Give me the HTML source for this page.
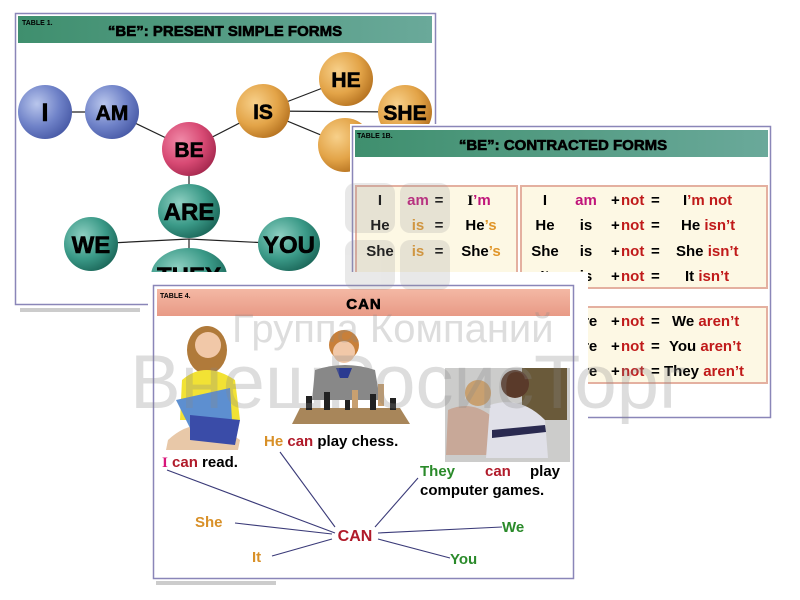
<!DOCTYPE html>
<html><head><meta charset="utf-8"><style>
html,body{margin:0;padding:0;background:#fff;width:800px;height:600px;overflow:hidden}
svg{display:block}
text{font-family:"Liberation Sans",sans-serif;font-weight:bold}
.hv{stroke:#000;stroke-width:0.6}
</style></head><body>
<svg width="800" height="600" viewBox="0 0 800 600" xmlns="http://www.w3.org/2000/svg">
<defs>
<radialGradient id="gb" cx="35%" cy="35%" r="70%"><stop offset="0" stop-color="#b9c6ec"/><stop offset="0.6" stop-color="#6f82c8"/><stop offset="1" stop-color="#4a5ca8"/></radialGradient>
<radialGradient id="gr" cx="35%" cy="35%" r="70%"><stop offset="0" stop-color="#f08aa8"/><stop offset="0.6" stop-color="#d84a74"/><stop offset="1" stop-color="#a82a50"/></radialGradient>
<radialGradient id="go" cx="35%" cy="35%" r="70%"><stop offset="0" stop-color="#f7d08a"/><stop offset="0.6" stop-color="#e3a448"/><stop offset="1" stop-color="#b87522"/></radialGradient>
<radialGradient id="gt" cx="35%" cy="35%" r="70%"><stop offset="0" stop-color="#8fd0c2"/><stop offset="0.6" stop-color="#3b9a88"/><stop offset="1" stop-color="#1d6a5c"/></radialGradient>
<linearGradient id="hg" x1="0" y1="0" x2="1" y2="0"><stop offset="0" stop-color="#3f8f6e"/><stop offset="1" stop-color="#6aa99a"/></linearGradient>
<linearGradient id="hs" x1="0" y1="0" x2="0" y2="1"><stop offset="0" stop-color="#f4b8a4"/><stop offset="1" stop-color="#e89a86"/></linearGradient>
</defs>

<!-- TABLE 1 -->
<rect x="15.5" y="13.5" width="420" height="291" fill="#fff" stroke="#8a86b8" stroke-width="1.5"/>
<rect x="18" y="16" width="414" height="27" fill="url(#hg)"/>
<text x="22" y="25" font-size="7">TABLE 1.</text>
<text x="225" y="36" font-size="15" text-anchor="middle" class="hv">“BE”: PRESENT SIMPLE FORMS</text>
<g stroke="#222" stroke-width="1.2">
<line x1="45" y1="112" x2="112" y2="112"/><line x1="112" y1="112" x2="189" y2="149"/>
<line x1="189" y1="149" x2="263" y2="111"/><line x1="263" y1="111" x2="346" y2="79"/>
<line x1="263" y1="111" x2="405" y2="112"/><line x1="263" y1="111" x2="345" y2="145"/>
<line x1="189" y1="149" x2="189" y2="211"/>
<line x1="91" y1="244" x2="189" y2="239"/><line x1="189" y1="239" x2="289" y2="244"/><line x1="189" y1="239" x2="189" y2="272"/>
</g>
<g class="hv">
<circle cx="45" cy="112" r="27" fill="url(#gb)" stroke="none"/><text x="45" y="121" font-size="25" text-anchor="middle" font-family="Liberation Serif">I</text>
<circle cx="112" cy="112" r="27" fill="url(#gb)" stroke="none"/><text x="112" y="120" font-size="21" text-anchor="middle">AM</text>
<circle cx="189" cy="149" r="27" fill="url(#gr)" stroke="none"/><text x="189" y="157" font-size="21" text-anchor="middle">BE</text>
<circle cx="263" cy="111" r="27" fill="url(#go)" stroke="none"/><text x="263" y="119" font-size="21" text-anchor="middle">IS</text>
<circle cx="346" cy="79" r="27" fill="url(#go)" stroke="none"/><text x="346" y="87" font-size="21" text-anchor="middle">HE</text>
<circle cx="405" cy="112" r="27" fill="url(#go)" stroke="none"/><text x="405" y="120" font-size="21" text-anchor="middle">SHE</text>
<circle cx="345" cy="145" r="27" fill="url(#go)" stroke="none"/>
<ellipse cx="189" cy="211" rx="31" ry="27" fill="url(#gt)" stroke="none"/><text x="189" y="220" font-size="24" text-anchor="middle">ARE</text>
<circle cx="91" cy="244" r="27" fill="url(#gt)" stroke="none"/><text x="91" y="253" font-size="24" text-anchor="middle">WE</text>
<ellipse cx="289" cy="244" rx="31" ry="27" fill="url(#gt)" stroke="none"/><text x="289" y="253" font-size="24" text-anchor="middle">YOU</text>
<ellipse cx="189" cy="276" rx="38" ry="28" fill="url(#gt)" stroke="none"/><text x="189" y="284" font-size="24" text-anchor="middle">THEY</text>
</g>
<rect x="20" y="308" width="120" height="4" fill="#ccc"/>

<!-- TABLE 1B -->
<rect x="350" y="124" width="422" height="296" fill="#fff"/>
<rect x="352.5" y="126.5" width="418" height="291" fill="#fff" stroke="#8a86b8" stroke-width="1.5"/>
<rect x="355" y="130" width="413" height="27" fill="url(#hg)"/>
<text x="357" y="138" font-size="7">TABLE 1B.</text>
<text x="563" y="150" font-size="15" text-anchor="middle" class="hv">“BE”: CONTRACTED FORMS</text>
<rect x="356" y="186" width="161" height="100" fill="#fdf8e4" stroke="#e4b0a0" stroke-width="2"/>
<rect x="521" y="186" width="246" height="102" fill="#fdf8e4" stroke="#e4b0a0" stroke-width="2"/>
<rect x="521" y="307" width="246" height="76" fill="#fdf8e4" stroke="#e4b0a0" stroke-width="2"/>
<g font-size="15">
<text x="380" y="205" text-anchor="middle" font-family="Liberation Serif">I</text><text x="418" y="205" text-anchor="middle" fill="#c0157a">am</text><text x="439" y="205" text-anchor="middle">=</text><text x="479" y="205" text-anchor="middle"><tspan font-family="Liberation Serif">I</tspan><tspan fill="#c0157a">’m</tspan></text>
<text x="380" y="230" text-anchor="middle">He</text><text x="418" y="230" text-anchor="middle" fill="#e0962a">is</text><text x="439" y="230" text-anchor="middle">=</text><text x="481" y="230" text-anchor="middle">He<tspan fill="#e0962a">’s</tspan></text>
<text x="380" y="256" text-anchor="middle">She</text><text x="418" y="256" text-anchor="middle" fill="#e0962a">is</text><text x="439" y="256" text-anchor="middle">=</text><text x="481" y="256" text-anchor="middle">She<tspan fill="#e0962a">’s</tspan></text>
<text x="545" y="205" text-anchor="middle" font-family="Liberation Serif">I</text><text x="586" y="205" text-anchor="middle" fill="#c0157a">am</text><text x="611" y="205">+</text><text x="621" y="205" fill="#c01a1a">not</text><text x="651" y="205">=</text><text x="683" y="205" font-family="Liberation Serif">I<tspan font-family="Liberation Sans" fill="#c01a1a">’m not</tspan></text>
<text x="545" y="230" text-anchor="middle">He</text><text x="586" y="230" text-anchor="middle">is</text><text x="611" y="230">+</text><text x="621" y="230" fill="#c01a1a">not</text><text x="651" y="230">=</text><text x="681" y="230">He <tspan fill="#c01a1a">isn’t</tspan></text>
<text x="545" y="256" text-anchor="middle">She</text><text x="586" y="256" text-anchor="middle">is</text><text x="611" y="256">+</text><text x="621" y="256" fill="#c01a1a">not</text><text x="651" y="256">=</text><text x="676" y="256">She <tspan fill="#c01a1a">isn’t</tspan></text>
<text x="545" y="281" text-anchor="middle">It</text><text x="586" y="281" text-anchor="middle">is</text><text x="611" y="281">+</text><text x="621" y="281" fill="#c01a1a">not</text><text x="651" y="281">=</text><text x="685" y="281">It <tspan fill="#c01a1a">isn’t</tspan></text>
<text x="586" y="326" text-anchor="middle">are</text><text x="611" y="326">+</text><text x="621" y="326" fill="#c01a1a">not</text><text x="651" y="326">=</text><text x="672" y="326">We <tspan fill="#c01a1a">aren’t</tspan></text>
<text x="586" y="351" text-anchor="middle">are</text><text x="611" y="351">+</text><text x="621" y="351" fill="#c01a1a">not</text><text x="651" y="351">=</text><text x="669" y="351">You <tspan fill="#c01a1a">aren’t</tspan></text>
<text x="586" y="376" text-anchor="middle">are</text><text x="611" y="376">+</text><text x="621" y="376" fill="#c01a1a">not</text><text x="651" y="376">=</text><text x="664" y="376">They <tspan fill="#c01a1a">aren’t</tspan></text>
</g>

<!-- TABLE 4 -->
<rect x="148" y="272" width="440" height="313" fill="#fff"/>
<rect x="153.5" y="285.5" width="420" height="293" fill="#fff" stroke="#8a86b8" stroke-width="1.5"/>
<rect x="157" y="289" width="413" height="27" fill="url(#hs)"/>
<text x="160" y="298" font-size="7">TABLE 4.</text>
<text x="364" y="309" font-size="15" text-anchor="middle" letter-spacing="1" class="hv">CAN</text>
<!-- photos -->
<g>
<ellipse cx="207" cy="350" rx="20" ry="24" fill="#b07a3a"/>
<circle cx="208" cy="345" r="13" fill="#f1c8a8"/>
<path d="M182 380 Q205 360 235 380 L240 420 L180 420Z" fill="#f2e234"/>
<path d="M168 440 Q200 410 240 440 L238 450 L166 450Z" fill="#e8c8a8"/>
<path d="M176 400 L230 388 L232 420 L190 428Z" fill="#5d8fd0"/>
<path d="M190 415 L240 420 L235 445 L190 440Z" fill="#3a4ca8"/>
<circle cx="344" cy="345" r="15" fill="#c8803a"/>
<circle cx="344" cy="352" r="11" fill="#f1c8a8"/>
<path d="M315 370 Q345 360 375 370 L380 400 L312 400Z" fill="#888"/>
<path d="M336 368 L352 368 L348 378 L340 378Z" fill="#2a3a90"/>
<path d="M300 408 L400 408 L410 424 L292 424Z" fill="#a8865a"/>
<g fill="#222"><rect x="306" y="396" width="6" height="14"/><rect x="324" y="392" width="6" height="18"/><rect x="345" y="400" width="5" height="10"/><rect x="370" y="394" width="6" height="16"/><rect x="390" y="398" width="6" height="12"/></g>
<g fill="#c8a070"><rect x="352" y="390" width="6" height="18"/><rect x="378" y="384" width="6" height="22"/></g>
<rect x="445" y="368" width="125" height="94" fill="#9a9a98" opacity="0.5"/>
<rect x="522" y="368" width="45" height="52" fill="#6a5a3a"/>
<circle cx="478" cy="393" r="13" fill="#c8a070"/>
<circle cx="515" cy="384" r="14" fill="#5a3a2a"/>
<path d="M448 410 Q470 400 490 415 L492 455 L446 455Z" fill="#c8a898"/>
<path d="M490 405 Q520 395 545 420 L548 458 L486 458Z" fill="#e0e0e8"/>
<path d="M492 430 L545 425 L546 432 L492 438Z" fill="#2a2a50"/>
</g>
<g stroke="#3a3a78" stroke-width="1.1">
<line x1="167" y1="470" x2="335" y2="533"/><line x1="280" y1="452" x2="335" y2="527"/>
<line x1="418" y1="478" x2="375" y2="527"/><line x1="235" y1="523" x2="332" y2="534"/>
<line x1="272" y1="556" x2="332" y2="539"/><line x1="378" y1="533" x2="502" y2="527"/>
<line x1="378" y1="539" x2="450" y2="558"/>
</g>
<g font-size="15">
<text x="162" y="467"><tspan fill="#d8157a" font-family="Liberation Serif">I</tspan> <tspan fill="#b01a2a">can</tspan> read.</text>
<text x="264" y="446"><tspan fill="#d89028">He</tspan> <tspan fill="#b01a2a">can</tspan> play chess.</text>
<text x="420" y="476"><tspan fill="#2a8a2a">They</tspan><tspan x="485" fill="#b01a2a">can</tspan><tspan x="530">play</tspan></text>
<text x="420" y="495">computer games.</text>
<text x="355" y="541" text-anchor="middle" fill="#b01a2a" font-size="16">CAN</text>
<text x="195" y="527" fill="#d89028">She</text>
<text x="252" y="562" fill="#d89028">It</text>
<text x="502" y="532" fill="#2a8a2a">We</text>
<text x="450" y="564" fill="#2a8a2a">You</text>
</g>
<rect x="156" y="581" width="120" height="4" fill="#ccc"/>

<!-- watermark -->
<g fill="#888" opacity="0.28">
<text x="232" y="342" font-size="40" style="font-weight:normal">Группа Компаний</text>
<text x="130" y="408" font-size="76" style="font-weight:normal">ВнешРосисТорг</text>
</g>
<g fill="#999" opacity="0.22">
<rect x="345" y="183" width="50" height="50" rx="10"/><rect x="400" y="183" width="50" height="50" rx="10"/>
<rect x="345" y="240" width="50" height="50" rx="10"/><rect x="400" y="240" width="50" height="50" rx="10"/>
</g>
</svg>
</body></html>
